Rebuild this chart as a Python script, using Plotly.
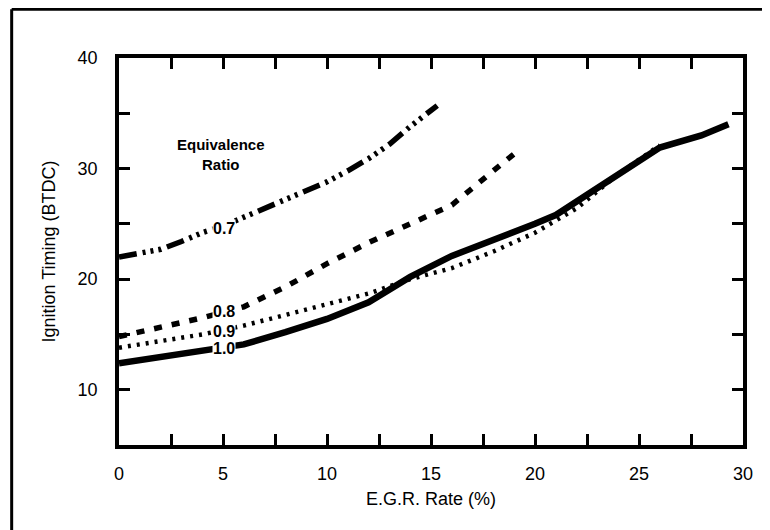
import plotly.graph_objects as go

# Data
x_07 = [0, 1, 2, 3, 4, 5, 6, 7, 8, 9, 10, 11, 12, 13, 14, 15.3]
y_07 = [22.0, 22.3, 22.7, 23.4, 24.2, 24.8, 25.6, 26.3, 27.1, 27.9, 28.8, 29.8, 30.9, 32.2, 33.8, 35.7]

x_08 = [0, 2, 4, 6, 8, 10, 12, 14, 16, 18, 19.3]
y_08 = [14.8, 15.6, 16.5, 17.5, 19.3, 21.4, 23.3, 25.0, 26.7, 29.8, 31.8]

x_09 = [0, 2, 4, 6, 8, 10, 12, 14, 16, 18, 20, 22, 24, 26]
y_09 = [13.8, 14.4, 15.0, 15.8, 16.8, 17.7, 18.7, 20.0, 21.0, 22.5, 24.2, 26.4, 29.5, 32.1]

x_10 = [0, 2, 4, 6, 8, 10, 12, 13, 14, 16, 18, 20, 21, 22, 24, 26, 28, 29.3]
y_10 = [12.4, 13.0, 13.5, 14.1, 15.2, 16.4, 17.9, 19.0, 20.2, 22.1, 23.5, 25.0, 25.8, 27.0, 29.4, 31.9, 33.0, 34.0]

ratio_labels = ["0.7", "0.8", "0.9", "1.0"]
label_x = [5.05, 5.05, 5.05, 5.05]
label_y = [24.6, 17.05, 15.25, 13.7]

x_tickvals = [0, 2.5, 5, 7.5, 10, 12.5, 15, 17.5, 20, 22.5, 25, 27.5, 30]
x_ticktext = ["0", "", "5", "", "10", "", "15", "", "20", "", "25", "", "30"]
y_tickvals = [10, 15, 20, 25, 30, 35, 40]
y_ticktext = ["10", "", "20", "", "30", "", "40"]

FONT = "Liberation Sans, Arial, sans-serif"

fig = go.Figure()
fig.add_trace(go.Scatter(x=x_07, y=y_07, mode="lines",
                         line=dict(color="black", width=5.5,
                                   dash="18px,6px,3px,5px,3px,5px,3px,6px")))
fig.add_trace(go.Scatter(x=x_08, y=y_08, mode="lines",
                         line=dict(color="black", width=5.5, dash="8px,10px")))
fig.add_trace(go.Scatter(x=x_09, y=y_09, mode="lines",
                         line=dict(color="black", width=4.5, dash="3px,6px")))
fig.add_trace(go.Scatter(x=x_10, y=y_10, mode="lines",
                         line=dict(color="black", width=6.5)))

for t, lx, ly in zip(ratio_labels, label_x, label_y):
    fig.add_annotation(x=lx, y=ly, text="<b>" + t + "</b>", showarrow=False,
                       font=dict(family=FONT, size=16, color="black"),
                       bgcolor="white", borderpad=0)

fig.add_annotation(x=4.9, y=31.3, text="<b>Equivalence<br>Ratio</b>", showarrow=False,
                   font=dict(family=FONT, size=15, color="black"), align="center")

# partial outer frame (left and top)
fig.add_shape(type="line", xref="paper", yref="paper", x0=-0.172, x1=-0.172, y0=-0.25, y1=1.126,
              line=dict(color="black", width=3))
fig.add_shape(type="line", xref="paper", yref="paper", x0=-0.172, x1=1.06, y0=1.126, y1=1.126,
              line=dict(color="black", width=3))

fig.update_layout(
    width=762, height=522,
    margin=dict(l=111, r=27, t=50, b=85),
    paper_bgcolor="white", plot_bgcolor="white",
    showlegend=False,
    font=dict(family=FONT, color="black"),
)
fig.update_xaxes(range=[0, 30], tickvals=x_tickvals, ticktext=x_ticktext,
                 ticks="inside", ticklen=11, tickwidth=2.5, tickcolor="black",
                 showline=True, linewidth=3.5, linecolor="black", mirror="ticks",
                 showgrid=False, zeroline=False,
                 tickfont=dict(size=18), ticklabelstandoff=10,
                 title=dict(text="E.G.R. Rate (%)", font=dict(size=18), standoff=10))
fig.update_yaxes(range=[5, 40], tickvals=y_tickvals, ticktext=y_ticktext,
                 ticks="inside", ticklen=11, tickwidth=2.5, tickcolor="black",
                 showline=True, linewidth=3.5, linecolor="black", mirror="ticks",
                 showgrid=False, zeroline=False,
                 tickfont=dict(size=18), ticklabelstandoff=14,
                 title=dict(text="Ignition Timing (BTDC)", font=dict(size=18), standoff=18))

fig.write_html("out.html")
